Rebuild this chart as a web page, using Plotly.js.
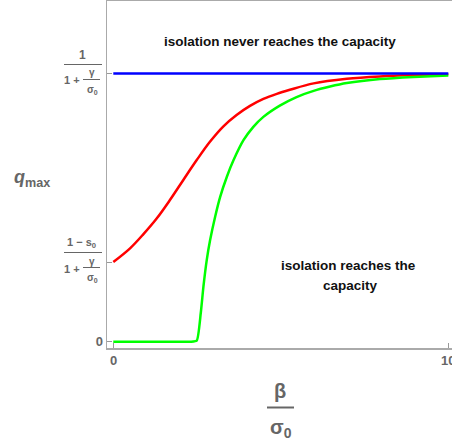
<!DOCTYPE html>
<html>
<head>
<meta charset="utf-8">
<script src="https://cdn.plot.ly/plotly-3.0.1.min.js"></script>
<style>html,body{margin:0;padding:0;background:#fff;}#chart{width:452px;height:448px;}</style>
</head>
<body>
<div id="chart"></div>
<script>
// ---- data (normalised so that 1/(1+gamma/sigma0) = 1) ----
const capacity = 1.0;
const lowStart = 0.297;           // (1 - s0)/(1 + gamma/sigma0)
const blueX = [0, 10];
const blueY = [1, 1];
const redX = [0, 0.5, 0.9, 1.3, 1.69, 2.09, 2.49, 2.89, 3.28, 3.68, 4.08, 4.48, 4.88, 5.27, 5.98, 6.97, 7.96, 8.96, 10];
const redY = [0.297, 0.348, 0.401, 0.46, 0.528, 0.603, 0.677, 0.746, 0.802, 0.845, 0.879, 0.905, 0.924, 0.939, 0.963, 0.98, 0.989, 0.994, 0.997];
const greenX = [0, 1.2, 2.3, 2.49, 2.61, 2.69, 2.79, 2.89, 3.04, 3.19, 3.39, 3.59, 3.89, 4.18, 4.48, 4.97, 5.47, 5.98, 6.47, 6.97, 7.96, 8.96, 10];
const greenY = [0, 0, 0, 0.004, 0.106, 0.205, 0.305, 0.379, 0.466, 0.54, 0.615, 0.677, 0.752, 0.801, 0.838, 0.88, 0.912, 0.935, 0.951, 0.964, 0.979, 0.987, 0.992];
const xTickVals = [0, 10];
const xTickText = ['0', '10'];
const yTickVals = [0, lowStart, capacity];
const yTickText = ['0', '', ''];

// ---- layout helpers (pixel -> paper) ----
const L = 107, T = 1, W = 452 - 107, H = 348 - 1;
const px = x => (x - L) / W;
const py = y => (T + H - y) / H;
const gray = '#666666';
const FONT = 'Liberation Sans, Arial, sans-serif';

function txt(x, y, text, size, color, extra) {
  return Object.assign({
    xref: 'paper', yref: 'paper', x: px(x), y: py(y),
    xanchor: 'center', yanchor: 'middle', showarrow: false,
    text: text, font: {family: FONT, size: size, color: color || gray, weight: 'bold'}
  }, extra || {});
}
function bar(x0, x1, y, w) {
  return {type: 'line', xref: 'paper', yref: 'paper', x0: px(x0), x1: px(x1), y0: py(y), y1: py(y),
          line: {color: gray, width: w || 1.2}};
}

const annotations = [
  // top fraction 1/(1+γ/σ0)
  txt(82, 55, '1', 12),
  txt(72, 80, '1 +', 11),
  txt(91.5, 72.5, 'γ', 10),
  txt(92, 89.5, 'σ<sub>0</sub>', 10),
  // lower fraction (1-s0)/(1+γ/σ0)
  txt(81, 243, '1 − s<sub>0</sub>', 11),
  txt(72, 268.5, '1 +', 11),
  txt(91.5, 261, 'γ', 10),
  txt(92, 278, 'σ<sub>0</sub>', 10),
  // y title
  txt(32, 178, '<i>q</i><sub>max</sub>', 18),
  // x title
  txt(280, 391, 'β', 20),
  txt(281, 429, 'σ<sub>0</sub>', 20),
  // region notes
  txt(280, 42, 'isolation never reaches the capacity', 13.5, '#111111'),
  txt(348, 265, 'isolation reaches the', 13.5, '#111111'),
  txt(350, 285, 'capacity', 13.5, '#111111')
];
// x tick labels (positioned on the x axis scale)
xTickVals.forEach((v, i) => {
  annotations.push({xref: 'x', yref: 'paper', x: v, y: py(360), xanchor: 'center', yanchor: 'middle',
    showarrow: false, text: xTickText[i], font: {family: FONT, size: 13, color: gray, weight: 'bold'}});
});

const shapes = [
  bar(64, 102, 64.5),
  bar(83, 100, 79.5, 1),
  bar(64, 102, 252.5),
  bar(83, 100, 267.5, 1),
  bar(267, 294, 407.5, 2)
];

const traces = [
  {x: redX, y: redY, mode: 'lines', line: {color: '#ff0000', width: 2.5, shape: 'spline', smoothing: 1}, hoverinfo: 'skip'},
  {x: greenX, y: greenY, mode: 'lines', line: {color: '#00ff00', width: 2.5, shape: 'spline', smoothing: 0.5}, hoverinfo: 'skip'},
  {x: blueX, y: blueY, mode: 'lines', line: {color: '#0000ff', width: 2.5}, hoverinfo: 'skip'}
];

const axisCommon = {
  showgrid: false, zeroline: false, showline: true, linecolor: '#aaaaaa', linewidth: 1.5,
  ticks: 'inside', ticklen: 5, tickcolor: '#999999', tickwidth: 1,
  tickfont: {family: FONT, size: 13, color: gray, weight: 'bold'}
};

const layout = {
  width: 452, height: 448,
  margin: {l: L, r: 0, t: T, b: 448 - 348},
  paper_bgcolor: '#ffffff', plot_bgcolor: '#ffffff',
  showlegend: false,
  xaxis: Object.assign({}, axisCommon, {range: [-0.188, 10.11], tickmode: 'array', tickvals: xTickVals, ticktext: ['', ''], mirror: true}),
  yaxis: Object.assign({}, axisCommon, {range: [-0.0235, 1.270], tickmode: 'array', tickvals: yTickVals, ticktext: yTickText, mirror: true}),
  annotations: annotations,
  shapes: shapes
};

Plotly.newPlot('chart', traces, layout, {displayModeBar: false, staticPlot: true});
</script>
</body>
</html>
